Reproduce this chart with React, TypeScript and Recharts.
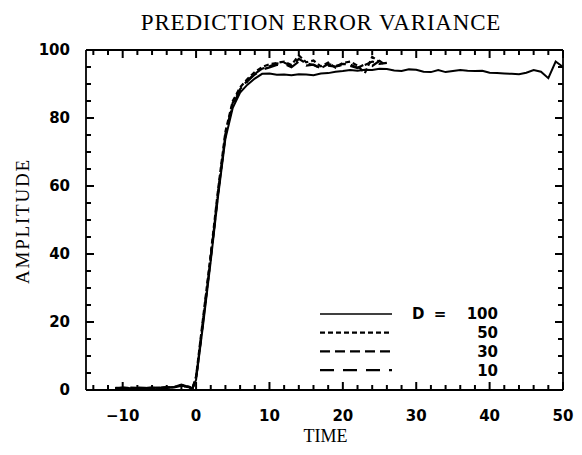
import React from 'react';
import { LineChart, Line, XAxis, YAxis, Legend } from 'recharts';

// ---- data ----
const tD100 = [-11, -10, -9, -8, -7, -6, -5, -4, -3, -2, -1, -0.5, 0, 1, 2, 3, 4, 5, 6, 7, 8, 9, 10, 11, 12, 13, 14, 15, 16, 17, 18, 19, 20, 21, 22, 23, 24, 25, 26, 27, 28, 29, 30, 31, 32, 33, 34, 35, 36, 37, 38, 39, 40, 41, 42, 43, 44, 45, 46, 47, 48, 49, 50];
const ampD100 = [0.6, 0.7, 0.5, 0.6, 0.5, 0.7, 0.6, 0.8, 0.9, 1.6, 0.9, 0.3, 3, 20, 38, 57, 74, 83, 87.5, 89.8, 91.6, 93, 93.1, 92.7, 92.8, 92.6, 92.9, 92.8, 92.6, 93.1, 93.2, 93.6, 93.8, 94.1, 93.9, 94.2, 94.1, 94.5, 94.4, 94.0, 93.8, 94.3, 94.2, 93.6, 93.5, 94.1, 93.5, 93.8, 94.1, 93.9, 93.8, 93.9, 93.3, 93.2, 93.1, 93.0, 92.9, 93.3, 94.1, 93.6, 91.7, 96.6, 95];

const tD50 = [-11, -10, -9, -8, -7, -6, -5, -4, -3, -2, -1, -0.5, 0, 1, 2, 3, 4, 5, 6, 7, 8, 9, 10, 11, 12, 13, 14, 15, 16, 17, 18, 19, 20, 21, 22, 23, 24, 25];
const ampD50 = [0.5, 0.6, 0.6, 0.5, 0.6, 0.6, 0.7, 0.7, 0.8, 1.4, 1.0, 0.5, 4, 22, 40, 59, 76, 85, 89, 91.5, 93.5, 95, 95.8, 96.2, 96.6, 95.6, 98.4, 96.4, 96.9, 95.2, 96.3, 94.8, 96.2, 96.6, 95.4, 93.2, 98.0, 96.5];

const tD30 = [-11, -10, -9, -8, -7, -6, -5, -4, -3, -2, -1, -0.5, 0, 1, 2, 3, 4, 5, 6, 7, 8, 9, 10, 11, 12, 13, 14, 15, 16, 17, 18, 19, 20, 21, 22, 23, 24, 25, 26];
const ampD30 = [0.6, 0.5, 0.7, 0.6, 0.5, 0.6, 0.6, 0.8, 0.7, 1.3, 0.9, 0.4, 3.5, 21, 39, 58, 75, 84.5, 88.5, 91, 93, 94.5, 95.2, 96, 96.3, 95.3, 97.4, 96.1, 95.6, 94.6, 95.9, 95.3, 95.9, 95.7, 94.8, 95.6, 96.6, 95.9, 96.2];

const tD10 = [-11, -10, -9, -8, -7, -6, -5, -4, -3, -2, -1, -0.5, 0, 1, 2, 3, 4, 5, 6, 7, 8, 9, 10, 11, 12, 13, 14, 15, 16, 17, 18, 19, 20, 21, 22, 23, 24, 25, 26];
const ampD10 = [0.5, 0.6, 0.5, 0.7, 0.6, 0.5, 0.7, 0.6, 0.8, 1.2, 0.8, 0.4, 3.5, 21, 39, 58, 75, 84, 88, 90.8, 92.8, 94.2, 94.9, 95.6, 95.9, 94.9, 96.6, 95.4, 95.7, 94.6, 95.4, 95.1, 95.6, 95.3, 94.7, 95.8, 95.3, 96.8, 95.3];

const xTicks = [-14, -12, -10, -8, -6, -4, -2, 0, 2, 4, 6, 8, 10, 12, 14, 16, 18, 20, 22, 24, 26, 28, 30, 32, 34, 36, 38, 40, 42, 44, 46, 48, 50];
const yTicks = [0, 5, 10, 15, 20, 25, 30, 35, 40, 45, 50, 55, 60, 65, 70, 75, 80, 85, 90, 95, 100];
const xLabelEvery = 10;
const yLabelEvery = 20;

const seriesNames = ['D = 100', '50', '30', '10'];

const build = (t: number[], v: number[]) => t.map((x, i) => ({ t: x, v: v[i] }));
const dataD100 = build(tD100, ampD100);
const dataD50 = build(tD50, ampD50);
const dataD30 = build(tD30, ampD30);
const dataD10 = build(tD10, ampD10);

const dashes = ['', '5 3', '10 5', '14 9'];

const tickFont = { fontFamily: '"DejaVu Sans"', fontWeight: 700, fontSize: 15 } as const;
const MAJOR = 8;
const MINOR = 5;
const TW = 2;

const fmt = (v: number) => (v < 0 ? '\u2212' + Math.abs(v) : String(v));

const BottomTick = (p: any) => {
  const v = p.payload.value;
  const major = v % xLabelEvery === 0;
  return (
    <g>
      <line x1={p.x} x2={p.x} y1={p.y} y2={p.y - (major ? MAJOR : MINOR)} stroke="#000" strokeWidth={TW} />
      {major && (
        <text x={p.x} y={p.y + 31} textAnchor="middle" fill="#000" style={tickFont}>
          {fmt(v)}
        </text>
      )}
    </g>
  );
};

const TopTick = (p: any) => {
  const v = p.payload.value;
  const major = v % xLabelEvery === 0;
  return (
    <g>
      <line x1={p.x} x2={p.x} y1={p.y} y2={p.y + (major ? MAJOR : MINOR)} stroke="#000" strokeWidth={TW} />
    </g>
  );
};

const LeftTick = (p: any) => {
  const v = p.payload.value;
  const major = v % yLabelEvery === 0;
  return (
    <g>
      <line x1={p.x} x2={p.x + (major ? MAJOR : MINOR)} y1={p.y} y2={p.y} stroke="#000" strokeWidth={TW} />
      {major && (
        <text x={p.x - 16} y={p.y} dy="0.36em" textAnchor="end" fill="#000" style={tickFont}>
          {fmt(v)}
        </text>
      )}
    </g>
  );
};

const RightTick = (p: any) => {
  const v = p.payload.value;
  const major = v % yLabelEvery === 0;
  return (
    <g>
      <line x1={p.x} x2={p.x - (major ? MAJOR : MINOR)} y1={p.y} y2={p.y} stroke="#000" strokeWidth={TW} />
    </g>
  );
};

const LegendContent = () => (
  <svg width={200} height={80} style={{ display: 'block' }}>
    {seriesNames.map((name, i) => {
      const y = 11 + i * 18.7;
      return (
        <g key={name}>
          <line x1={0} x2={72} y1={y} y2={y} stroke="#000" strokeWidth={i === 0 ? 1.3 : 2.2} strokeDasharray={dashes[i] || undefined} />
          {i === 0 ? (
            <>
              <text x={92} y={y} dy="0.36em" fill="#000" style={tickFont}>D</text>
              <text x={120} y={y} dy="0.36em" textAnchor="middle" fill="#000" style={tickFont}>=</text>
              <text x={178} y={y} dy="0.36em" textAnchor="end" fill="#000" style={tickFont}>100</text>
            </>
          ) : (
            <text x={178} y={y} dy="0.36em" textAnchor="end" fill="#000" style={tickFont}>{name}</text>
          )}
        </g>
      );
    })}
  </svg>
);

export default function App() {
  const axisLine = { stroke: '#000', strokeWidth: 1.8 };
  return (
    <div style={{ position: 'absolute', left: 0, top: 0, width: 582, height: 455, background: '#fff' }}>
      <div
        style={{
          position: 'absolute', left: 0, top: 10, width: 642, textAlign: 'center',
          fontFamily: '"Liberation Serif"', fontSize: 23, letterSpacing: 0.8, color: '#000',
        }}
      >
        PREDICTION ERROR VARIANCE
      </div>
      <div
        style={{
          position: 'absolute', left: 0, top: 426, width: 651, textAlign: 'center',
          fontFamily: '"Liberation Serif"', fontSize: 18, color: '#000',
        }}
      >
        TIME
      </div>
      <div
        style={{
          position: 'absolute', left: 23, top: 221, width: 0, height: 0,
        }}
      >
        <div
          style={{
            position: 'absolute', left: -100, top: -11, width: 200, textAlign: 'center',
            transform: 'rotate(-90deg)', fontFamily: '"Liberation Serif"', fontSize: 19,
            letterSpacing: 1.8, color: '#000', lineHeight: '22px',
          }}
        >
          AMPLITUDE
        </div>
      </div>
      <LineChart width={582} height={455} margin={{ top: 49, right: 18, left: 0, bottom: 0 }}>
        <XAxis
          xAxisId="b" dataKey="t" type="number" orientation="bottom" domain={[-15, 50]} allowDataOverflow
          ticks={xTicks} interval={0} height={65} tickSize={0} tickMargin={0}
          tick={BottomTick} tickLine={false} axisLine={axisLine}
        />
        <XAxis
          xAxisId="t" dataKey="t" type="number" orientation="top" domain={[-15, 50]} allowDataOverflow
          ticks={xTicks} interval={0} height={1} tickSize={0} tickMargin={0}
          tick={TopTick} tickLine={false} axisLine={axisLine}
        />
        <YAxis
          yAxisId="l" type="number" orientation="left" domain={[0, 100]} allowDataOverflow
          ticks={yTicks} interval={0} width={86} tickSize={0} tickMargin={0}
          tick={LeftTick} tickLine={false} axisLine={axisLine}
        />
        <YAxis
          yAxisId="r" type="number" orientation="right" domain={[0, 100]} allowDataOverflow
          ticks={yTicks} interval={0} width={1} tickSize={0} tickMargin={0}
          tick={RightTick} tickLine={false} axisLine={axisLine}
        />
        <Line xAxisId="b" yAxisId="l" data={dataD100} dataKey="v" type="linear" stroke="#000" strokeWidth={2} dot={false} isAnimationActive={false} name={seriesNames[0]} />
        <Line xAxisId="b" yAxisId="l" data={dataD50} dataKey="v" type="linear" stroke="#000" strokeWidth={2.2} strokeDasharray={dashes[1]} dot={false} isAnimationActive={false} name={seriesNames[1]} />
        <Line xAxisId="b" yAxisId="l" data={dataD30} dataKey="v" type="linear" stroke="#000" strokeWidth={2.2} strokeDasharray={dashes[2]} dot={false} isAnimationActive={false} name={seriesNames[2]} />
        <Line xAxisId="b" yAxisId="l" data={dataD10} dataKey="v" type="linear" stroke="#000" strokeWidth={2.2} strokeDasharray={dashes[3]} dot={false} isAnimationActive={false} name={seriesNames[3]} />
        <Legend
          layout="horizontal" verticalAlign="middle" align="center"
          wrapperStyle={{ left: 320, top: 303, width: 200, height: 80 }}
          content={LegendContent}
        />
      </LineChart>
    </div>
  );
}
